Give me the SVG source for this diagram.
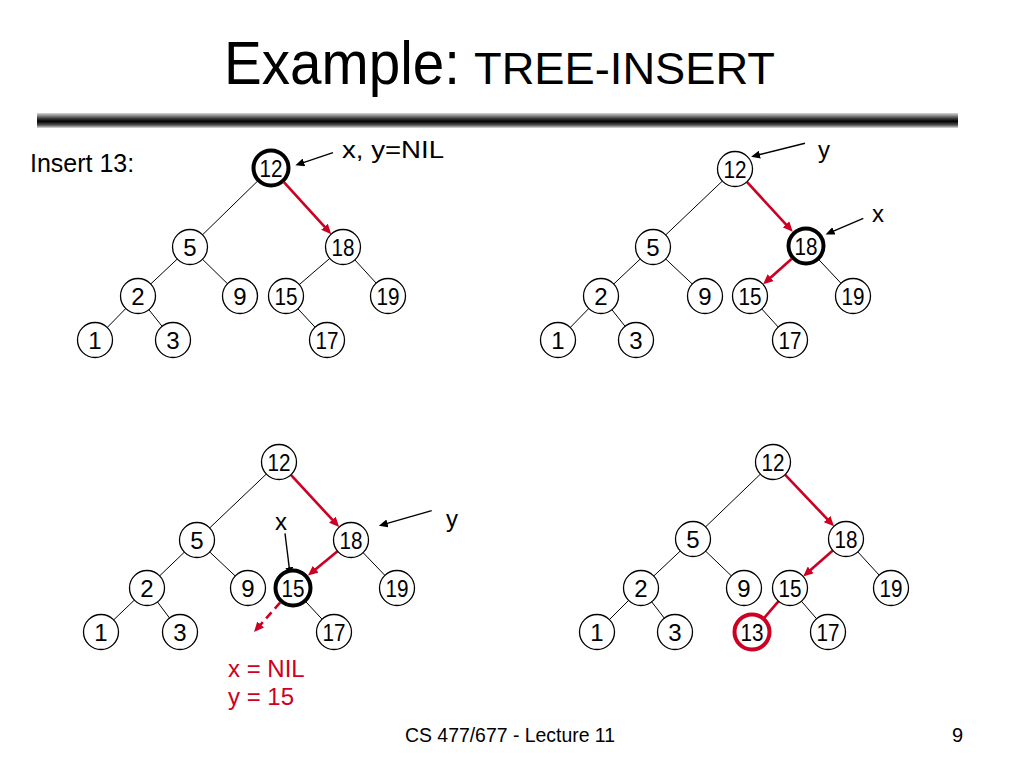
<svg xmlns="http://www.w3.org/2000/svg" width="1024" height="768" viewBox="0 0 1024 768">
<defs>
<linearGradient id="bar" x1="0" y1="0" x2="0" y2="1">
<stop offset="0" stop-color="#d8d8d8"/>
<stop offset="0.35" stop-color="#404040"/>
<stop offset="0.55" stop-color="#000"/>
<stop offset="0.8" stop-color="#505050"/>
<stop offset="1" stop-color="#e0e0e0"/>
</linearGradient>
<marker id="ar" markerUnits="userSpaceOnUse" markerWidth="11" markerHeight="9" refX="4" refY="4.5" orient="auto">
<path d="M0,0 L10,4.5 L0,9 z" fill="#cc0022"/>
</marker>
<marker id="ab" markerUnits="userSpaceOnUse" markerWidth="10" markerHeight="8" refX="3" refY="4" orient="auto">
<path d="M0,0 L9,4 L0,8 z" fill="#000"/>
</marker>
</defs>
<style>
text{font-family:"Liberation Sans",Arial,Helvetica,sans-serif;fill:#000}
.n circle{fill:#fff;stroke:#000;stroke-width:1.3}
.n circle.b{stroke-width:4}
.n circle.r{stroke:#cc0022;stroke-width:4}
.n text{font-size:24px;text-anchor:middle}
.e line{stroke:#000;stroke-width:1}
.red{stroke:#cc0022;stroke-width:2.6;fill:none}
.blk{stroke:#000;stroke-width:1.4;fill:none}
.lbl{font-size:24px}
.redt{fill:#cc0022;font-size:24px}
</style>
<rect width="1024" height="768" fill="#fff"/>
<g id="title">
<text x="224" y="84" font-size="61" textLength="236" lengthAdjust="spacingAndGlyphs">Example:</text>
<text x="474" y="84" font-size="45" textLength="301" lengthAdjust="spacingAndGlyphs">TREE-INSERT</text>
</g>
<rect x="37" y="113" width="921" height="15" fill="url(#bar)"/>
<text x="30" y="172" font-size="25">Insert 13:</text>

<g id="connectors">
<g class="e">
<line x1="271" y1="168" x2="190" y2="247"/>
<line x1="190" y1="247" x2="138" y2="296"/>
<line x1="190" y1="247" x2="240" y2="296"/>
<line x1="138" y1="296" x2="95" y2="340"/>
<line x1="138" y1="296" x2="173" y2="340"/>
<line x1="343" y1="247" x2="286" y2="296"/>
<line x1="343" y1="247" x2="388" y2="296"/>
<line x1="286" y1="296" x2="327" y2="340"/>
<line x1="735" y1="169" x2="653" y2="247"/>
<line x1="653" y1="247" x2="601" y2="296"/>
<line x1="653" y1="247" x2="705" y2="296"/>
<line x1="601" y1="296" x2="558" y2="340"/>
<line x1="601" y1="296" x2="636" y2="340"/>
<line x1="806" y1="246" x2="853" y2="296"/>
<line x1="750" y1="296" x2="790" y2="340"/>
<line x1="279" y1="462" x2="197" y2="540"/>
<line x1="197" y1="540" x2="147" y2="588"/>
<line x1="197" y1="540" x2="248" y2="588"/>
<line x1="147" y1="588" x2="101" y2="632"/>
<line x1="147" y1="588" x2="180" y2="632"/>
<line x1="351" y1="540" x2="397" y2="588"/>
<line x1="293" y1="588" x2="334" y2="632"/>
<line x1="773" y1="462" x2="693" y2="539"/>
<line x1="693" y1="539" x2="641" y2="588"/>
<line x1="693" y1="539" x2="744" y2="588"/>
<line x1="641" y1="588" x2="597" y2="632"/>
<line x1="641" y1="588" x2="675" y2="632"/>
<line x1="846" y1="539" x2="891" y2="588"/>
<line x1="790" y1="588" x2="828" y2="632"/>
</g>
<line class="red" x1="284.1" y1="182.4" x2="327.2" y2="229.7" marker-end="url(#ar)"/>
<line class="red" x1="746.9" y1="181.9" x2="788.7" y2="227.3" marker-end="url(#ar)"/>
<line class="red" x1="791.5" y1="259" x2="767.6" y2="280.3" marker-end="url(#ar)"/>
<line class="red" x1="290.9" y1="474.9" x2="335.1" y2="522.7" marker-end="url(#ar)"/>
<line class="red" x1="337.5" y1="551.2" x2="312.6" y2="571.8" marker-end="url(#ar)"/>
<line class="red" x1="280.1" y1="602.6" x2="258" y2="627.5" stroke-dasharray="8,5" marker-end="url(#ar)"/>
<line class="red" x1="785" y1="474.7" x2="829.9" y2="521.9" marker-end="url(#ar)"/>
<line class="red" x1="832.8" y1="550.5" x2="807.7" y2="572.6" marker-end="url(#ar)"/>
<line class="red" x1="778.6" y1="601.2" x2="763.4" y2="618.8" stroke-width="5"/>
<line class="blk" x1="333" y1="152.7" x2="301.1" y2="163.3" marker-end="url(#ab)"/>
<line class="blk" x1="805" y1="143.3" x2="756.9" y2="155.3" marker-end="url(#ab)"/>
<line class="blk" x1="863.3" y1="218.3" x2="831.1" y2="232.1" marker-end="url(#ab)"/>
<line class="blk" x1="285" y1="533.3" x2="289.6" y2="570.3" marker-end="url(#ab)"/>
<line class="blk" x1="431.7" y1="510.7" x2="384.6" y2="524.2" marker-end="url(#ab)"/>
</g>

<g id="t1" class="n">
<g id="t1-12"><circle class="b" cx="271" cy="168" r="17.5"/><text x="271" y="176.5" textLength="23" lengthAdjust="spacingAndGlyphs">12</text></g>
<g id="t1-5"><circle cx="190" cy="247" r="17.5"/><text x="190" y="255.5">5</text></g>
<g id="t1-18"><circle cx="343" cy="247" r="17.5"/><text x="343" y="255.5" textLength="23" lengthAdjust="spacingAndGlyphs">18</text></g>
<g id="t1-2"><circle cx="138" cy="296" r="17.5"/><text x="138" y="304.5">2</text></g>
<g id="t1-9"><circle cx="240" cy="296" r="17.5"/><text x="240" y="304.5">9</text></g>
<g id="t1-15"><circle cx="286" cy="296" r="17.5"/><text x="286" y="304.5" textLength="23" lengthAdjust="spacingAndGlyphs">15</text></g>
<g id="t1-19"><circle cx="388" cy="296" r="17.5"/><text x="388" y="304.5" textLength="23" lengthAdjust="spacingAndGlyphs">19</text></g>
<g id="t1-1"><circle cx="95" cy="340" r="17.5"/><text x="95" y="348.5">1</text></g>
<g id="t1-3"><circle cx="173" cy="340" r="17.5"/><text x="173" y="348.5">3</text></g>
<g id="t1-17"><circle cx="327" cy="340" r="17.5"/><text x="327" y="348.5" textLength="23" lengthAdjust="spacingAndGlyphs">17</text></g>
</g>
<g id="t2" class="n">
<g id="t2-12"><circle cx="735" cy="169" r="17.5"/><text x="735" y="177.5" textLength="23" lengthAdjust="spacingAndGlyphs">12</text></g>
<g id="t2-5"><circle cx="653" cy="247" r="17.5"/><text x="653" y="255.5">5</text></g>
<g id="t2-18"><circle class="b" cx="806" cy="246" r="17.5"/><text x="806" y="254.5" textLength="23" lengthAdjust="spacingAndGlyphs">18</text></g>
<g id="t2-2"><circle cx="601" cy="296" r="17.5"/><text x="601" y="304.5">2</text></g>
<g id="t2-9"><circle cx="705" cy="296" r="17.5"/><text x="705" y="304.5">9</text></g>
<g id="t2-15"><circle cx="750" cy="296" r="17.5"/><text x="750" y="304.5" textLength="23" lengthAdjust="spacingAndGlyphs">15</text></g>
<g id="t2-19"><circle cx="853" cy="296" r="17.5"/><text x="853" y="304.5" textLength="23" lengthAdjust="spacingAndGlyphs">19</text></g>
<g id="t2-1"><circle cx="558" cy="340" r="17.5"/><text x="558" y="348.5">1</text></g>
<g id="t2-3"><circle cx="636" cy="340" r="17.5"/><text x="636" y="348.5">3</text></g>
<g id="t2-17"><circle cx="790" cy="340" r="17.5"/><text x="790" y="348.5" textLength="23" lengthAdjust="spacingAndGlyphs">17</text></g>
</g>
<g id="t3" class="n">
<g id="t3-12"><circle cx="279" cy="462" r="17.5"/><text x="279" y="470.5" textLength="23" lengthAdjust="spacingAndGlyphs">12</text></g>
<g id="t3-5"><circle cx="197" cy="540" r="17.5"/><text x="197" y="548.5">5</text></g>
<g id="t3-18"><circle cx="351" cy="540" r="17.5"/><text x="351" y="548.5" textLength="23" lengthAdjust="spacingAndGlyphs">18</text></g>
<g id="t3-2"><circle cx="147" cy="588" r="17.5"/><text x="147" y="596.5">2</text></g>
<g id="t3-9"><circle cx="248" cy="588" r="17.5"/><text x="248" y="596.5">9</text></g>
<g id="t3-15"><circle class="b" cx="293" cy="588" r="17.5"/><text x="293" y="596.5" textLength="23" lengthAdjust="spacingAndGlyphs">15</text></g>
<g id="t3-19"><circle cx="397" cy="588" r="17.5"/><text x="397" y="596.5" textLength="23" lengthAdjust="spacingAndGlyphs">19</text></g>
<g id="t3-1"><circle cx="101" cy="632" r="17.5"/><text x="101" y="640.5">1</text></g>
<g id="t3-3"><circle cx="180" cy="632" r="17.5"/><text x="180" y="640.5">3</text></g>
<g id="t3-17"><circle cx="334" cy="632" r="17.5"/><text x="334" y="640.5" textLength="23" lengthAdjust="spacingAndGlyphs">17</text></g>
</g>
<g id="t4" class="n">
<g id="t4-12"><circle cx="773" cy="462" r="17.5"/><text x="773" y="470.5" textLength="23" lengthAdjust="spacingAndGlyphs">12</text></g>
<g id="t4-5"><circle cx="693" cy="539" r="17.5"/><text x="693" y="547.5">5</text></g>
<g id="t4-18"><circle cx="846" cy="539" r="17.5"/><text x="846" y="547.5" textLength="23" lengthAdjust="spacingAndGlyphs">18</text></g>
<g id="t4-2"><circle cx="641" cy="588" r="17.5"/><text x="641" y="596.5">2</text></g>
<g id="t4-9"><circle cx="744" cy="588" r="17.5"/><text x="744" y="596.5">9</text></g>
<g id="t4-15"><circle cx="790" cy="588" r="17.5"/><text x="790" y="596.5" textLength="23" lengthAdjust="spacingAndGlyphs">15</text></g>
<g id="t4-19"><circle cx="891" cy="588" r="17.5"/><text x="891" y="596.5" textLength="23" lengthAdjust="spacingAndGlyphs">19</text></g>
<g id="t4-1"><circle cx="597" cy="632" r="17.5"/><text x="597" y="640.5">1</text></g>
<g id="t4-3"><circle cx="675" cy="632" r="17.5"/><text x="675" y="640.5">3</text></g>
<g id="t4-13"><circle class="r" cx="752" cy="632" r="17.5"/><text x="752" y="640.5" textLength="23" lengthAdjust="spacingAndGlyphs">13</text></g>
<g id="t4-17"><circle cx="828" cy="632" r="17.5"/><text x="828" y="640.5" textLength="23" lengthAdjust="spacingAndGlyphs">17</text></g>
</g>

<g id="labels">
<text class="lbl" x="342" y="158" font-size="22" textLength="102" lengthAdjust="spacingAndGlyphs">x, y=NIL</text>
<text class="lbl" x="818" y="158">y</text>
<text class="lbl" x="872" y="222">x</text>
<text class="lbl" x="275" y="530">x</text>
<text class="lbl" x="446" y="527">y</text>
<text class="redt" x="228" y="677">x = NIL</text>
<text class="redt" x="228" y="705">y = 15</text>
</g>

<g id="footer">
<text x="405" y="742" font-size="20" textLength="210" lengthAdjust="spacingAndGlyphs">CS 477/677 - Lecture 11</text>
<text x="952" y="742" font-size="20">9</text>
</g>
</svg>
